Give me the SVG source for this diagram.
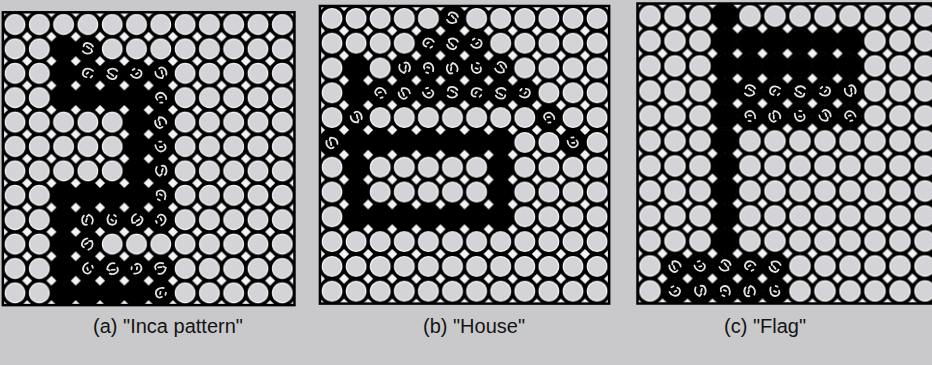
<svg xmlns="http://www.w3.org/2000/svg" xmlns:xlink="http://www.w3.org/1999/xlink" width="932" height="365" viewBox="0 0 932 365">
<style>
.bg{fill:#c9c9cb}
.frame{fill:none;stroke:#000;stroke-width:2.5}
.cir{fill:#d4d4d8;stroke:#f4f4f6;stroke-width:1.2}
.dia{fill:#f3f3f3}
.lbl{font-family:"Liberation Sans",Arial,sans-serif;font-size:20px;fill:#141414;text-anchor:middle}
.sq{fill:none;stroke:#e2e2e4;stroke-width:1.8;stroke-linecap:round;stroke-linejoin:round}
</style>
<defs>
<pattern id="pa" patternUnits="userSpaceOnUse" x="2.85" y="12.3" width="24.3" height="24.4">
<rect width="24.3" height="24.4" fill="#000"/>
<circle class="cir" cx="12.15" cy="12.2" r="9.8"/>
<polygon class="dia" points="0,-5 5,0 0,5 -5,0"/>
<polygon class="dia" points="24.3,-5 29.3,0 24.3,5 19.3,0"/>
<polygon class="dia" points="0,19.4 5,24.4 0,29.4 -5,24.4"/>
<polygon class="dia" points="24.3,19.4 29.3,24.4 24.3,29.4 19.3,24.4"/>
</pattern>
<pattern id="pb" patternUnits="userSpaceOnUse" x="319.95" y="6" width="24.1" height="24.8">
<rect width="24.1" height="24.8" fill="#000"/>
<circle class="cir" cx="12.05" cy="12.4" r="9.8"/>
<polygon class="dia" points="0,-5 5,0 0,5 -5,0"/>
<polygon class="dia" points="24.1,-5 29.1,0 24.1,5 19.1,0"/>
<polygon class="dia" points="0,19.8 5,24.8 0,29.8 -5,24.8"/>
<polygon class="dia" points="24.1,19.8 29.1,24.8 24.1,29.8 19.1,24.8"/>
</pattern>
<pattern id="pc" patternUnits="userSpaceOnUse" x="637.5" y="3.5" width="25" height="25">
<rect width="25" height="25" fill="#000"/>
<circle class="cir" cx="12.5" cy="12.5" r="10.1"/>
<polygon class="dia" points="0,-5.1 5.1,0 0,5.1 -5.1,0"/>
<polygon class="dia" points="25,-5.1 30.1,0 25,5.1 19.9,0"/>
<polygon class="dia" points="0,19.9 5.1,25 0,30.1 -5.1,25"/>
<polygon class="dia" points="25,19.9 30.1,25 25,30.1 19.9,25"/>
</pattern>
<circle id="bk" r="11.6" fill="#000"/>
<g id="nz">
<circle r="11.6" fill="#000"/>
<path class="sq" d="M-5,-1 C-6,-6 1,-7 4,-4 M-2,-2 L1,-1 M-4,4 C-1,6 3,5 5,1 L3,-1"/>
</g>
<g id="nz2">
<circle r="11.6" fill="#000"/>
<path class="sq" d="M-4,-4 C-6,0 -4,5 0,5 C3,5 5,3 4,0 M1,-5 L3,-4 M-1,0 L1,1"/>
</g>
</defs>
<rect class="bg" width="932" height="365"/>

<g id="panel-a">
<rect x="2.85" y="12.3" width="291.6" height="292.8" fill="url(#pa)"/>
<g id="a-black">
<use xlink:href="#bk" x="63.6" y="48.9"/>
<use xlink:href="#bk" x="63.6" y="73.3"/>
<use xlink:href="#bk" x="63.6" y="97.7"/><use xlink:href="#bk" x="87.9" y="97.7"/><use xlink:href="#bk" x="112.2" y="97.7"/><use xlink:href="#bk" x="136.5" y="97.7"/>
<use xlink:href="#bk" x="136.5" y="122.1"/>
<use xlink:href="#bk" x="136.5" y="146.5"/>
<use xlink:href="#bk" x="136.5" y="170.9"/>
<use xlink:href="#bk" x="63.6" y="195.3"/><use xlink:href="#bk" x="87.9" y="195.3"/><use xlink:href="#bk" x="112.2" y="195.3"/><use xlink:href="#bk" x="136.5" y="195.3"/>
<use xlink:href="#bk" x="63.6" y="219.7"/>
<use xlink:href="#bk" x="63.6" y="244.1"/>
<use xlink:href="#bk" x="63.6" y="268.5"/>
<use xlink:href="#bk" x="63.6" y="292.9"/><use xlink:href="#bk" x="87.9" y="292.9"/><use xlink:href="#bk" x="112.2" y="292.9"/><use xlink:href="#bk" x="136.5" y="292.9"/>
</g>
<g id="a-noise">
<use xlink:href="#nz" transform="translate(87.9,48.9) rotate(20)"/>
<use xlink:href="#nz2" transform="translate(87.9,73.3) rotate(110)"/>
<use xlink:href="#nz" transform="translate(112.2,73.3) rotate(200)"/>
<use xlink:href="#nz2" transform="translate(136.5,73.3) rotate(300)"/>
<use xlink:href="#nz" transform="translate(160.8,73.3) rotate(60)"/>
<use xlink:href="#nz2" transform="translate(160.8,97.7) rotate(150)"/>
<use xlink:href="#nz" transform="translate(160.8,122.1) rotate(240)"/>
<use xlink:href="#nz2" transform="translate(160.8,146.5) rotate(330)"/>
<use xlink:href="#nz" transform="translate(160.8,170.9) rotate(90)"/>
<use xlink:href="#nz2" transform="translate(160.8,195.3) rotate(180)"/>
<use xlink:href="#nz" transform="translate(87.9,219.7) rotate(270)"/>
<use xlink:href="#nz2" transform="translate(112.2,219.7) rotate(10)"/>
<use xlink:href="#nz" transform="translate(136.5,219.7) rotate(130)"/>
<use xlink:href="#nz2" transform="translate(160.8,219.7) rotate(220)"/>
<use xlink:href="#nz" transform="translate(87.9,244.1) rotate(310)"/>
<use xlink:href="#nz2" transform="translate(87.9,268.5) rotate(45)"/>
<use xlink:href="#nz" transform="translate(112.2,268.5) rotate(160)"/>
<use xlink:href="#nz2" transform="translate(136.5,268.5) rotate(250)"/>
<use xlink:href="#nz" transform="translate(160.8,268.5) rotate(340)"/>
<use xlink:href="#nz2" transform="translate(160.8,292.9) rotate(75)"/>
</g>
<rect class="frame" x="2.85" y="12.3" width="291.6" height="292.8"/>
</g>

<g id="panel-b">
<rect x="319.95" y="6" width="289.2" height="297.6" fill="url(#pb)"/>
<g id="b-black">
<use xlink:href="#bk" x="356.1" y="68"/>
<use xlink:href="#bk" x="356.1" y="92.8"/>
<use xlink:href="#bk" x="356.1" y="142.4"/><use xlink:href="#bk" x="380.2" y="142.4"/><use xlink:href="#bk" x="404.3" y="142.4"/><use xlink:href="#bk" x="428.4" y="142.4"/><use xlink:href="#bk" x="452.5" y="142.4"/><use xlink:href="#bk" x="476.6" y="142.4"/><use xlink:href="#bk" x="500.7" y="142.4"/>
<use xlink:href="#bk" x="356.1" y="167.2"/><use xlink:href="#bk" x="500.7" y="167.2"/>
<use xlink:href="#bk" x="356.1" y="192"/><use xlink:href="#bk" x="500.7" y="192"/>
<use xlink:href="#bk" x="356.1" y="216.8"/><use xlink:href="#bk" x="380.2" y="216.8"/><use xlink:href="#bk" x="404.3" y="216.8"/><use xlink:href="#bk" x="428.4" y="216.8"/><use xlink:href="#bk" x="452.5" y="216.8"/><use xlink:href="#bk" x="476.6" y="216.8"/><use xlink:href="#bk" x="500.7" y="216.8"/>
</g>
<g id="b-noise">
<use xlink:href="#nz" transform="translate(452.5,18.4) rotate(30)"/>
<use xlink:href="#nz2" transform="translate(428.4,43.2) rotate(120)"/>
<use xlink:href="#nz" transform="translate(452.5,43.2) rotate(210)"/>
<use xlink:href="#nz2" transform="translate(476.6,43.2) rotate(300)"/>
<use xlink:href="#nz" transform="translate(404.3,68) rotate(80)"/>
<use xlink:href="#nz2" transform="translate(428.4,68) rotate(170)"/>
<use xlink:href="#nz" transform="translate(452.5,68) rotate(260)"/>
<use xlink:href="#nz2" transform="translate(476.6,68) rotate(350)"/>
<use xlink:href="#nz" transform="translate(500.7,68) rotate(40)"/>
<use xlink:href="#nz2" transform="translate(380.2,92.8) rotate(140)"/>
<use xlink:href="#nz" transform="translate(404.3,92.8) rotate(230)"/>
<use xlink:href="#nz2" transform="translate(428.4,92.8) rotate(320)"/>
<use xlink:href="#nz" transform="translate(452.5,92.8) rotate(15)"/>
<use xlink:href="#nz2" transform="translate(476.6,92.8) rotate(105)"/>
<use xlink:href="#nz" transform="translate(500.7,92.8) rotate(195)"/>
<use xlink:href="#nz2" transform="translate(524.8,92.8) rotate(285)"/>
<use xlink:href="#nz" transform="translate(356.1,117.6) rotate(60)"/>
<use xlink:href="#nz2" transform="translate(548.9,117.6) rotate(150)"/>
<use xlink:href="#nz" transform="translate(332,142.4) rotate(240)"/>
<use xlink:href="#nz2" transform="translate(573,142.4) rotate(330)"/>
</g>
<rect class="frame" x="319.95" y="6" width="289.2" height="297.6"/>
</g>

<g id="panel-c">
<rect x="637.5" y="3.5" width="300" height="300" fill="url(#pc)"/>
<g id="c-black">
<use xlink:href="#bk" x="725" y="16"/><use xlink:href="#bk" x="725" y="41"/><use xlink:href="#bk" x="725" y="66"/><use xlink:href="#bk" x="725" y="91"/><use xlink:href="#bk" x="725" y="116"/><use xlink:href="#bk" x="725" y="141"/><use xlink:href="#bk" x="725" y="166"/><use xlink:href="#bk" x="725" y="191"/><use xlink:href="#bk" x="725" y="216"/><use xlink:href="#bk" x="725" y="241"/>
<use xlink:href="#bk" x="750" y="41"/><use xlink:href="#bk" x="775" y="41"/><use xlink:href="#bk" x="800" y="41"/><use xlink:href="#bk" x="825" y="41"/><use xlink:href="#bk" x="850" y="41"/>
<use xlink:href="#bk" x="750" y="66"/><use xlink:href="#bk" x="775" y="66"/><use xlink:href="#bk" x="800" y="66"/><use xlink:href="#bk" x="825" y="66"/><use xlink:href="#bk" x="850" y="66"/>
</g>
<g id="c-noise">
<use xlink:href="#nz" transform="translate(750,91) rotate(20)"/>
<use xlink:href="#nz2" transform="translate(775,91) rotate(110)"/>
<use xlink:href="#nz" transform="translate(800,91) rotate(200)"/>
<use xlink:href="#nz2" transform="translate(825,91) rotate(290)"/>
<use xlink:href="#nz" transform="translate(850,91) rotate(70)"/>
<use xlink:href="#nz2" transform="translate(750,116) rotate(160)"/>
<use xlink:href="#nz" transform="translate(775,116) rotate(250)"/>
<use xlink:href="#nz2" transform="translate(800,116) rotate(340)"/>
<use xlink:href="#nz" transform="translate(825,116) rotate(50)"/>
<use xlink:href="#nz2" transform="translate(850,116) rotate(140)"/>
<use xlink:href="#nz" transform="translate(675,266) rotate(230)"/>
<use xlink:href="#nz2" transform="translate(700,266) rotate(320)"/>
<use xlink:href="#nz" transform="translate(725,266) rotate(35)"/>
<use xlink:href="#nz2" transform="translate(750,266) rotate(125)"/>
<use xlink:href="#nz" transform="translate(775,266) rotate(215)"/>
<use xlink:href="#nz2" transform="translate(675,291) rotate(305)"/>
<use xlink:href="#nz" transform="translate(700,291) rotate(85)"/>
<use xlink:href="#nz2" transform="translate(725,291) rotate(175)"/>
<use xlink:href="#nz" transform="translate(750,291) rotate(265)"/>
<use xlink:href="#nz2" transform="translate(775,291) rotate(355)"/>
</g>
<rect class="frame" x="637.5" y="3.5" width="300" height="300"/>
</g>

<g id="labels">
<text class="lbl" x="168" y="333">(a) "Inca pattern"</text>
<text class="lbl" x="474" y="333">(b) "House"</text>
<text class="lbl" x="765" y="333">(c) "Flag"</text>
</g>
</svg>
